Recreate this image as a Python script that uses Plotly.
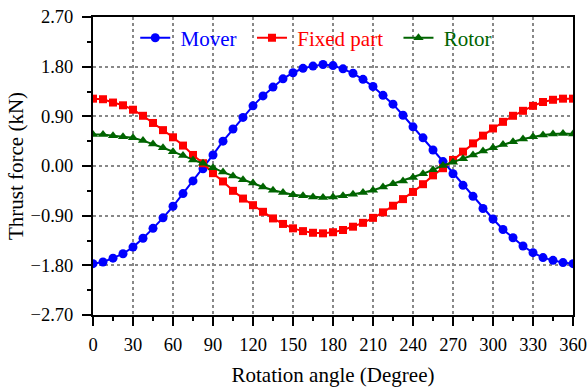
import plotly.graph_objects as go

# Rotation angle, 0..360 degrees in 7.5-degree steps
angle = [i * 7.5 for i in range(49)]

# Thrust force (kN) for each part
mover = [-1.77, -1.74, -1.67, -1.59, -1.47, -1.31, -1.13, -0.94, -0.73, -0.50,
         -0.27, -0.05, 0.20, 0.45, 0.67, 0.88, 1.09, 1.27, 1.43, 1.58,
         1.69, 1.77, 1.81, 1.84, 1.82, 1.76, 1.68, 1.57, 1.44, 1.28,
         1.12, 0.92, 0.71, 0.51, 0.29, 0.08, -0.14, -0.35, -0.55, -0.77,
         -0.96, -1.15, -1.30, -1.45, -1.57, -1.66, -1.71, -1.75, -1.77]

fixed_part = [1.22, 1.21, 1.15, 1.10, 1.02, 0.91, 0.78, 0.65, 0.52, 0.37,
              0.20, 0.05, -0.13, -0.28, -0.45, -0.59, -0.71, -0.83, -0.95, -1.05,
              -1.13, -1.18, -1.21, -1.22, -1.20, -1.16, -1.10, -1.03, -0.94, -0.84,
              -0.72, -0.60, -0.47, -0.33, -0.17, -0.04, 0.11, 0.26, 0.41, 0.55,
              0.68, 0.80, 0.91, 1.00, 1.09, 1.16, 1.20, 1.22, 1.22]

rotor = [0.57, 0.57, 0.55, 0.53, 0.51, 0.46, 0.40, 0.33, 0.26, 0.19,
         0.11, 0.05, -0.03, -0.11, -0.18, -0.25, -0.31, -0.38, -0.44, -0.48,
         -0.52, -0.54, -0.56, -0.57, -0.56, -0.54, -0.51, -0.48, -0.44, -0.38,
         -0.32, -0.27, -0.21, -0.14, -0.07, 0.01, 0.07, 0.13, 0.20, 0.27,
         0.33, 0.39, 0.44, 0.49, 0.53, 0.56, 0.58, 0.59, 0.58]

x_ticks = list(range(0, 361, 30))
y_ticks = [-2.70, -1.80, -0.90, 0.00, 0.90, 1.80, 2.70]

series = [
    ("Mover", mover, "#0000FF", "circle", 9),
    ("Fixed part", fixed_part, "#FF0000", "square", 8),
    ("Rotor", rotor, "#006400", "triangle-up", 9),
]

FONT = "Liberation Serif"

fig = go.Figure()
for name, vals, color, symbol, size in series:
    fig.add_trace(go.Scatter(
        x=angle, y=vals, mode="lines+markers",
        name=f"<span style='color:{color}'>&nbsp;{name}&nbsp;&nbsp;</span>",
        line=dict(color=color, width=2),
        marker=dict(color=color, symbol=symbol, size=size),
    ))

axis_common = dict(
    showline=True, linecolor="black", linewidth=2, mirror=True,
    ticks="outside", ticklen=9, tickwidth=2, tickcolor="black",
    showgrid=True, gridcolor="#888888", griddash="dot", gridwidth=1.5,
    zeroline=False, automargin=False,
    tickfont=dict(family=FONT, size=18.5, color="black"),
)

fig.update_xaxes(
    **axis_common,
    range=[0, 360], tickvals=x_ticks, ticklabelstandoff=3,
    minor=dict(ticks="outside", ticklen=4, tickwidth=2, tickcolor="black",
               dtick=15, showgrid=False),
    title=dict(text="Rotation angle (Degree)",
               font=dict(family=FONT, size=21, color="black"), standoff=13),
)
fig.update_yaxes(
    **axis_common,
    range=[-2.70, 2.70], tickvals=y_ticks, tickformat=".2f",
    ticklabelstandoff=5,
    minor=dict(ticks="outside", ticklen=4, tickwidth=2, tickcolor="black",
               dtick=0.45, tick0=0, showgrid=False),
    title=dict(text="Thrust force (kN)",
               font=dict(family=FONT, size=21, color="black"), standoff=1),
)

fig.update_layout(
    width=587, height=391,
    margin=dict(l=93, r=14, t=17, b=76, autoexpand=False),
    paper_bgcolor="white", plot_bgcolor="white",
    showlegend=True,
    legend=dict(
        orientation="h", x=0.088, y=0.998, xanchor="left", yanchor="top",
        bgcolor="rgba(0,0,0,0)", font=dict(family=FONT, size=21),
        tracegroupgap=0,
    ),
)

fig.write_html("out.html")
